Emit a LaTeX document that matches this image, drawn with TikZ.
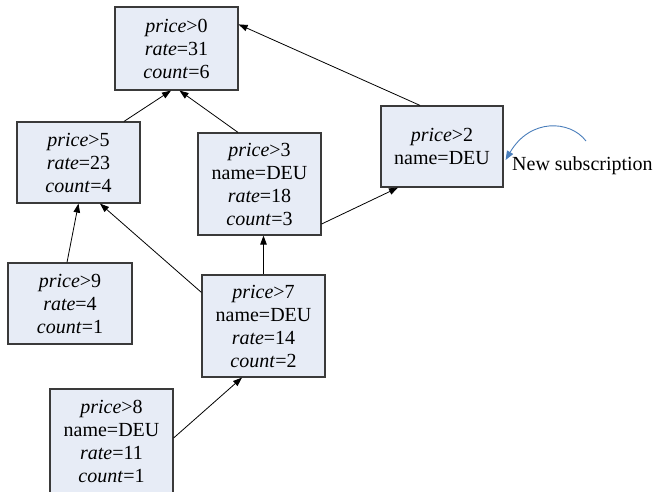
\documentclass[tikz,border=0pt]{standalone}
\usepackage{fontspec}
\setmainfont{Liberation Serif}
\usetikzlibrary{arrows.meta}
\definecolor{boxfill}{HTML}{E7ECF6}
\definecolor{boxline}{HTML}{3A3A3A}
\definecolor{newsub}{HTML}{4A7EBB}
\tikzset{
  sub/.style={draw=boxline, line width=1.2pt, fill=boxfill, rectangle,
    minimum width=123pt, align=center, inner sep=0pt,
    font=\fontsize{20}{23}\selectfont},
  link/.style={draw=black, line width=0.8pt, -{Triangle[length=9pt,width=6.5pt]}},
}
\begin{document}
\begin{tikzpicture}[x=1pt,y=-1pt]
\useasboundingbox (0,0) rectangle (654,491);
\clip (0,0) rectangle (654,491);

% subscription boxes
\node[sub, minimum height=83pt]  (n0) at (176.5,48.5) {\textit{price}>0\\\textit{rate}=31\\\textit{count}=6};
\node[sub, minimum height=81pt]  (n5) at (78.5,162.5) {\textit{price}>5\\\textit{rate}=23\\\textit{count}=4};
\node[sub, minimum height=102pt] (n3) at (259.5,184)  {\textit{price}>3\\name=DEU\\\textit{rate}=18\\\textit{count}=3};
\node[sub, minimum height=81pt, minimum width=122pt] (n2) at (442,146.5) {\textit{price}>2\\name=DEU};
\node[sub, minimum height=81pt, minimum width=124pt] (n9) at (70,303.5) {\textit{price}>9\\\textit{rate}=4\\\textit{count}=1};
\node[sub, minimum height=102pt] (n7) at (263.5,326)  {\textit{price}>7\\name=DEU\\\textit{rate}=14\\\textit{count}=2};
\node[sub, minimum height=104pt] (n8) at (111.5,441)  {\textit{price}>8\\name=DEU\\\textit{rate}=11\\\textit{count}=1};

% covering relations
\draw[link] ([xshift=45.5pt]n5.north) -- ([xshift=-5.5pt]n0.south);
\draw[link] ([xshift=-21.5pt]n3.north) -- ([xshift=3pt]n0.south);
\draw[link] ([xshift=-22pt]n2.north) -- ([yshift=-18pt]n0.north east);
\draw[link] ([yshift=-40pt]n3.east) -- ([xshift=-44pt]n2.south);
\draw[link] ([xshift=-3pt]n9.north) -- (n5.south);
\draw[link] ([yshift=-18pt]n7.north west) -- ([xshift=21.5pt]n5.south);
\draw[link] (n7.north) -- (n7.north |- n3.south);
\draw[link] ([yshift=3pt]n8.east) -- ([xshift=-21.5pt]n7.south);

% incoming subscription
\coordinate (ns) at (586,141);
\draw[newsub, line width=0.9pt, -{Triangle[length=9pt,width=7pt]}]
  (ns) .. controls (570,120) and (530,118) .. ([xshift=2pt,yshift=-13.5pt]n2.east);
\node[anchor=base west, inner sep=0pt, font=\fontsize{20}{23}\selectfont] (lbl) at (512,170) {New subscription};
\end{tikzpicture}
\end{document}
